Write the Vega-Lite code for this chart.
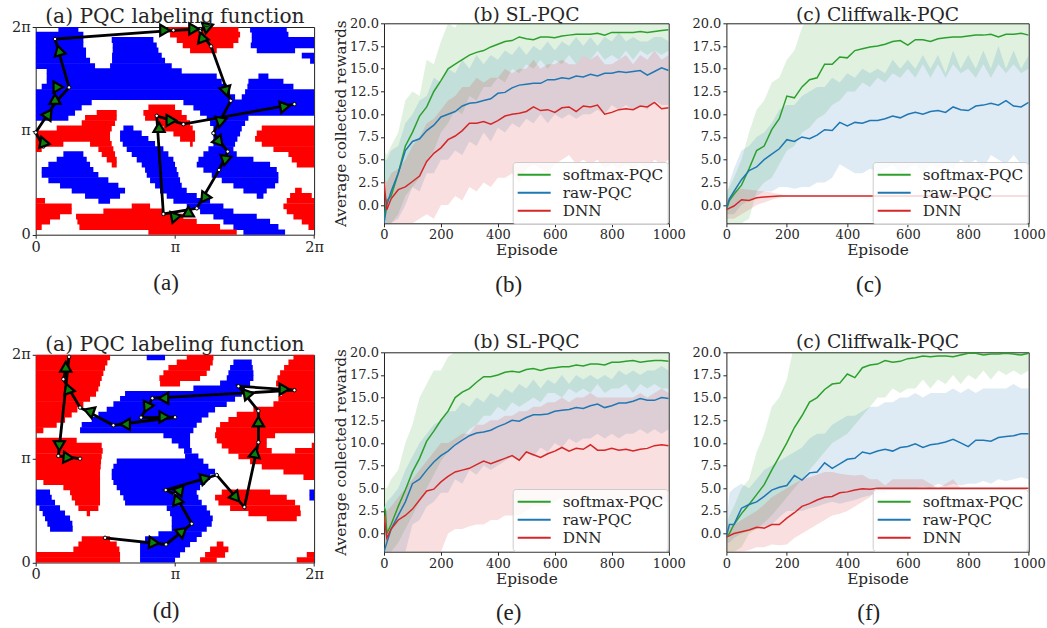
{"$schema":"https://vega.github.io/schema/vega-lite/v6.json","background":"white","padding":{"left":10.7,"top":4.3,"right":0,"bottom":0},
"config":{"view":{"stroke":"#222","strokeWidth":1},"axis":{"grid":false,"domain":false,"labelFont":"DejaVu Serif","titleFont":"DejaVu Serif","labelColor":"#262626","titleColor":"#262626","tickColor":"#262626","labelFontSize":13,"titleFontSize":15.3,"titleFontWeight":"normal","tickSize":3.5,"labelPadding":2,"titlePadding":1,"labelFlush":false,"labelOverlap":false},"title":{"font":"DejaVu Serif","fontSize":18.7,"fontWeight":"normal","color":"#262626","anchor":"middle"},"legend":{"labelFont":"DejaVu Serif","labelFontSize":15.3,"labelColor":"#262626","fillColor":"rgba(255,255,255,0.8)","strokeColor":"#ccc","cornerRadius":3,"padding":4,"symbolType":"stroke","symbolSize":1089,"symbolStrokeWidth":2,"rowPadding":0,"clipHeight":17.5,"labelOffset":11}},
"datasets":{
"mapA":[{"x":68,"x2":128,"y":614,"c":"b"},{"x":643,"x2":753,"y":614,"c":"b"},{"x":0,"x2":143,"y":599,"c":"b"},{"x":648,"x2":758,"y":599,"c":"b"},{"x":0,"x2":143,"y":583,"c":"b"},{"x":228,"x2":353,"y":583,"c":"b"},{"x":648,"x2":835,"y":583,"c":"b"},{"x":0,"x2":143,"y":567,"c":"b"},{"x":231,"x2":363,"y":567,"c":"b"},{"x":645,"x2":835,"y":567,"c":"b"},{"x":0,"x2":151,"y":552,"c":"b"},{"x":231,"x2":368,"y":552,"c":"b"},{"x":663,"x2":778,"y":552,"c":"b"},{"x":0,"x2":151,"y":536,"c":"b"},{"x":229,"x2":378,"y":536,"c":"b"},{"x":798,"x2":835,"y":536,"c":"b"},{"x":0,"x2":163,"y":521,"c":"b"},{"x":229,"x2":388,"y":521,"c":"b"},{"x":823,"x2":835,"y":521,"c":"b"},{"x":0,"x2":178,"y":505,"c":"b"},{"x":223,"x2":408,"y":505,"c":"b"},{"x":33,"x2":438,"y":490,"c":"b"},{"x":33,"x2":543,"y":474,"c":"b"},{"x":668,"x2":698,"y":474,"c":"b"},{"x":33,"x2":558,"y":458,"c":"b"},{"x":638,"x2":743,"y":458,"c":"b"},{"x":18,"x2":573,"y":443,"c":"b"},{"x":635,"x2":773,"y":443,"c":"b"},{"x":0,"x2":583,"y":427,"c":"b"},{"x":628,"x2":835,"y":427,"c":"b"},{"x":0,"x2":598,"y":412,"c":"b"},{"x":618,"x2":835,"y":412,"c":"b"},{"x":0,"x2":168,"y":396,"c":"b"},{"x":443,"x2":835,"y":396,"c":"b"},{"x":0,"x2":138,"y":381,"c":"b"},{"x":473,"x2":835,"y":381,"c":"b"},{"x":0,"x2":118,"y":365,"c":"b"},{"x":493,"x2":835,"y":365,"c":"b"},{"x":0,"x2":98,"y":350,"c":"b"},{"x":513,"x2":638,"y":350,"c":"b"},{"x":523,"x2":628,"y":334,"c":"b"},{"x":533,"x2":618,"y":318,"c":"b"},{"x":263,"x2":293,"y":318,"c":"b"},{"x":533,"x2":613,"y":303,"c":"b"},{"x":253,"x2":318,"y":303,"c":"b"},{"x":533,"x2":605,"y":287,"c":"b"},{"x":253,"x2":338,"y":287,"c":"b"},{"x":533,"x2":598,"y":272,"c":"b"},{"x":261,"x2":358,"y":272,"c":"b"},{"x":518,"x2":593,"y":256,"c":"b"},{"x":273,"x2":383,"y":256,"c":"b"},{"x":503,"x2":603,"y":241,"c":"b"},{"x":288,"x2":398,"y":241,"c":"b"},{"x":83,"x2":143,"y":241,"c":"b"},{"x":488,"x2":653,"y":225,"c":"b"},{"x":303,"x2":413,"y":225,"c":"b"},{"x":63,"x2":153,"y":225,"c":"b"},{"x":483,"x2":703,"y":210,"c":"b"},{"x":318,"x2":418,"y":210,"c":"b"},{"x":38,"x2":163,"y":210,"c":"b"},{"x":503,"x2":723,"y":194,"c":"b"},{"x":328,"x2":423,"y":194,"c":"b"},{"x":18,"x2":173,"y":194,"c":"b"},{"x":528,"x2":728,"y":179,"c":"b"},{"x":333,"x2":428,"y":179,"c":"b"},{"x":18,"x2":188,"y":179,"c":"b"},{"x":558,"x2":728,"y":163,"c":"b"},{"x":343,"x2":433,"y":163,"c":"b"},{"x":38,"x2":218,"y":163,"c":"b"},{"x":593,"x2":718,"y":147,"c":"b"},{"x":358,"x2":438,"y":147,"c":"b"},{"x":73,"x2":248,"y":147,"c":"b"},{"x":623,"x2":693,"y":132,"c":"b"},{"x":373,"x2":453,"y":132,"c":"b"},{"x":108,"x2":268,"y":132,"c":"b"},{"x":663,"x2":683,"y":116,"c":"b"},{"x":393,"x2":483,"y":116,"c":"b"},{"x":148,"x2":253,"y":116,"c":"b"},{"x":413,"x2":523,"y":101,"c":"b"},{"x":188,"x2":223,"y":101,"c":"b"},{"x":453,"x2":563,"y":85,"c":"b"},{"x":493,"x2":593,"y":70,"c":"b"},{"x":533,"x2":663,"y":54,"c":"b"},{"x":563,"x2":703,"y":39,"c":"b"},{"x":593,"x2":728,"y":23,"c":"b"},{"x":623,"x2":748,"y":7,"c":"b"},
{"x":398,"x2":608,"y":614,"c":"r"},{"x":403,"x2":613,"y":599,"c":"r"},{"x":423,"x2":608,"y":583,"c":"r"},{"x":441,"x2":593,"y":567,"c":"r"},{"x":463,"x2":543,"y":552,"c":"r"},{"x":338,"x2":418,"y":381,"c":"r"},{"x":323,"x2":438,"y":365,"c":"r"},{"x":183,"x2":243,"y":365,"c":"r"},{"x":328,"x2":453,"y":350,"c":"r"},{"x":148,"x2":243,"y":350,"c":"r"},{"x":363,"x2":463,"y":334,"c":"r"},{"x":138,"x2":238,"y":334,"c":"r"},{"x":383,"x2":471,"y":318,"c":"r"},{"x":63,"x2":228,"y":318,"c":"r"},{"x":678,"x2":835,"y":318,"c":"r"},{"x":413,"x2":478,"y":303,"c":"r"},{"x":0,"x2":223,"y":303,"c":"r"},{"x":663,"x2":835,"y":303,"c":"r"},{"x":433,"x2":478,"y":287,"c":"r"},{"x":0,"x2":223,"y":287,"c":"r"},{"x":658,"x2":835,"y":287,"c":"r"},{"x":463,"x2":471,"y":272,"c":"r"},{"x":0,"x2":83,"y":272,"c":"r"},{"x":163,"x2":228,"y":272,"c":"r"},{"x":678,"x2":835,"y":272,"c":"r"},{"x":0,"x2":18,"y":256,"c":"r"},{"x":188,"x2":233,"y":256,"c":"r"},{"x":713,"x2":835,"y":256,"c":"r"},{"x":198,"x2":238,"y":241,"c":"r"},{"x":758,"x2":835,"y":241,"c":"r"},{"x":213,"x2":243,"y":225,"c":"r"},{"x":768,"x2":835,"y":225,"c":"r"},{"x":228,"x2":243,"y":210,"c":"r"},{"x":783,"x2":835,"y":210,"c":"r"},{"x":778,"x2":798,"y":132,"c":"r"},{"x":763,"x2":828,"y":116,"c":"r"},{"x":0,"x2":28,"y":101,"c":"r"},{"x":753,"x2":835,"y":101,"c":"r"},{"x":0,"x2":108,"y":85,"c":"r"},{"x":288,"x2":343,"y":85,"c":"r"},{"x":743,"x2":835,"y":85,"c":"r"},{"x":0,"x2":108,"y":70,"c":"r"},{"x":203,"x2":383,"y":70,"c":"r"},{"x":753,"x2":835,"y":70,"c":"r"},{"x":0,"x2":73,"y":54,"c":"r"},{"x":121,"x2":443,"y":54,"c":"r"},{"x":773,"x2":835,"y":54,"c":"r"},{"x":0,"x2":43,"y":39,"c":"r"},{"x":125,"x2":483,"y":39,"c":"r"},{"x":798,"x2":835,"y":39,"c":"r"},{"x":0,"x2":18,"y":23,"c":"r"},{"x":131,"x2":553,"y":23,"c":"r"},{"x":818,"x2":835,"y":23,"c":"r"},{"x":338,"x2":603,"y":7,"c":"r"}],
"mapD":[{"x":333,"x2":388,"y":614,"c":"b"},{"x":593,"x2":648,"y":599,"c":"b"},{"x":583,"x2":651,"y":583,"c":"b"},{"x":578,"x2":653,"y":567,"c":"b"},{"x":573,"x2":653,"y":552,"c":"b"},{"x":553,"x2":643,"y":536,"c":"b"},{"x":473,"x2":628,"y":521,"c":"b"},{"x":268,"x2":618,"y":505,"c":"b"},{"x":253,"x2":598,"y":490,"c":"b"},{"x":233,"x2":573,"y":474,"c":"b"},{"x":213,"x2":538,"y":458,"c":"b"},{"x":188,"x2":518,"y":443,"c":"b"},{"x":168,"x2":498,"y":427,"c":"b"},{"x":138,"x2":483,"y":412,"c":"b"},{"x":133,"x2":473,"y":396,"c":"b"},{"x":383,"x2":463,"y":381,"c":"b"},{"x":408,"x2":463,"y":365,"c":"b"},{"x":428,"x2":463,"y":350,"c":"b"},{"x":445,"x2":468,"y":334,"c":"b"},{"x":448,"x2":488,"y":318,"c":"b"},{"x":243,"x2":503,"y":303,"c":"b"},{"x":233,"x2":518,"y":287,"c":"b"},{"x":228,"x2":538,"y":272,"c":"b"},{"x":228,"x2":523,"y":256,"c":"b"},{"x":233,"x2":508,"y":241,"c":"b"},{"x":243,"x2":493,"y":225,"c":"b"},{"x":253,"x2":483,"y":210,"c":"b"},{"x":0,"x2":43,"y":210,"c":"b"},{"x":821,"x2":835,"y":210,"c":"b"},{"x":263,"x2":488,"y":194,"c":"b"},{"x":0,"x2":48,"y":194,"c":"b"},{"x":821,"x2":835,"y":194,"c":"b"},{"x":268,"x2":498,"y":179,"c":"b"},{"x":0,"x2":58,"y":179,"c":"b"},{"x":393,"x2":513,"y":163,"c":"b"},{"x":11,"x2":73,"y":163,"c":"b"},{"x":403,"x2":523,"y":147,"c":"b"},{"x":21,"x2":88,"y":147,"c":"b"},{"x":408,"x2":531,"y":132,"c":"b"},{"x":28,"x2":103,"y":132,"c":"b"},{"x":408,"x2":528,"y":116,"c":"b"},{"x":35,"x2":110,"y":116,"c":"b"},{"x":408,"x2":513,"y":101,"c":"b"},{"x":43,"x2":111,"y":101,"c":"b"},{"x":368,"x2":498,"y":85,"c":"b"},{"x":328,"x2":483,"y":70,"c":"b"},{"x":313,"x2":463,"y":54,"c":"b"},{"x":313,"x2":448,"y":39,"c":"b"},{"x":313,"x2":433,"y":23,"c":"b"},{"x":313,"x2":418,"y":7,"c":"b"},
{"x":0,"x2":223,"y":614,"c":"r"},{"x":453,"x2":533,"y":614,"c":"r"},{"x":773,"x2":835,"y":614,"c":"r"},{"x":0,"x2":215,"y":599,"c":"r"},{"x":423,"x2":531,"y":599,"c":"r"},{"x":758,"x2":835,"y":599,"c":"r"},{"x":0,"x2":208,"y":583,"c":"r"},{"x":398,"x2":523,"y":583,"c":"r"},{"x":745,"x2":835,"y":583,"c":"r"},{"x":0,"x2":203,"y":567,"c":"r"},{"x":383,"x2":513,"y":567,"c":"r"},{"x":733,"x2":835,"y":567,"c":"r"},{"x":0,"x2":198,"y":552,"c":"r"},{"x":371,"x2":493,"y":552,"c":"r"},{"x":725,"x2":835,"y":552,"c":"r"},{"x":0,"x2":193,"y":536,"c":"r"},{"x":373,"x2":433,"y":536,"c":"r"},{"x":721,"x2":835,"y":536,"c":"r"},{"x":0,"x2":188,"y":521,"c":"r"},{"x":728,"x2":835,"y":521,"c":"r"},{"x":0,"x2":181,"y":505,"c":"r"},{"x":738,"x2":835,"y":505,"c":"r"},{"x":0,"x2":163,"y":490,"c":"r"},{"x":728,"x2":835,"y":490,"c":"r"},{"x":0,"x2":143,"y":474,"c":"r"},{"x":713,"x2":835,"y":474,"c":"r"},{"x":0,"x2":125,"y":458,"c":"r"},{"x":653,"x2":835,"y":458,"c":"r"},{"x":0,"x2":108,"y":443,"c":"r"},{"x":603,"x2":835,"y":443,"c":"r"},{"x":0,"x2":88,"y":427,"c":"r"},{"x":578,"x2":835,"y":427,"c":"r"},{"x":0,"x2":63,"y":412,"c":"r"},{"x":553,"x2":835,"y":412,"c":"r"},{"x":0,"x2":23,"y":396,"c":"r"},{"x":541,"x2":835,"y":396,"c":"r"},{"x":538,"x2":718,"y":381,"c":"r"},{"x":0,"x2":123,"y":365,"c":"r"},{"x":543,"x2":693,"y":365,"c":"r"},{"x":0,"x2":198,"y":350,"c":"r"},{"x":558,"x2":693,"y":350,"c":"r"},{"x":828,"x2":835,"y":350,"c":"r"},{"x":0,"x2":201,"y":334,"c":"r"},{"x":578,"x2":708,"y":334,"c":"r"},{"x":778,"x2":835,"y":334,"c":"r"},{"x":0,"x2":198,"y":318,"c":"r"},{"x":608,"x2":835,"y":318,"c":"r"},{"x":0,"x2":196,"y":303,"c":"r"},{"x":643,"x2":835,"y":303,"c":"r"},{"x":0,"x2":195,"y":287,"c":"r"},{"x":678,"x2":835,"y":287,"c":"r"},{"x":0,"x2":193,"y":272,"c":"r"},{"x":743,"x2":835,"y":272,"c":"r"},{"x":0,"x2":193,"y":256,"c":"r"},{"x":803,"x2":835,"y":256,"c":"r"},{"x":23,"x2":193,"y":241,"c":"r"},{"x":83,"x2":193,"y":225,"c":"r"},{"x":103,"x2":193,"y":210,"c":"r"},{"x":558,"x2":703,"y":210,"c":"r"},{"x":108,"x2":193,"y":194,"c":"r"},{"x":538,"x2":753,"y":194,"c":"r"},{"x":118,"x2":193,"y":179,"c":"r"},{"x":548,"x2":778,"y":179,"c":"r"},{"x":128,"x2":188,"y":163,"c":"r"},{"x":583,"x2":793,"y":163,"c":"r"},{"x":153,"x2":163,"y":147,"c":"r"},{"x":638,"x2":795,"y":147,"c":"r"},{"x":693,"x2":783,"y":132,"c":"r"},{"x":138,"x2":223,"y":70,"c":"r"},{"x":128,"x2":243,"y":54,"c":"r"},{"x":543,"x2":563,"y":54,"c":"r"},{"x":113,"x2":251,"y":39,"c":"r"},{"x":523,"x2":578,"y":39,"c":"r"},{"x":0,"x2":253,"y":23,"c":"r"},{"x":508,"x2":568,"y":23,"c":"r"},{"x":813,"x2":835,"y":23,"c":"r"},{"x":0,"x2":253,"y":7,"c":"r"},{"x":493,"x2":543,"y":7,"c":"r"},{"x":783,"x2":835,"y":7,"c":"r"}],
"pathA":[{"o":0,"x":23,"y":264},{"o":1,"x":0,"y":306},{"o":2,"x":58,"y":394},{"o":3,"x":100,"y":441},{"o":4,"x":58,"y":586},{"o":5,"x":413,"y":612},{"o":6,"x":493,"y":616},{"o":7,"x":518,"y":626},{"o":8,"x":493,"y":609},{"o":9,"x":526,"y":564},{"o":10,"x":585,"y":401},{"o":11,"x":533,"y":304},{"o":12,"x":576,"y":249},{"o":13,"x":550,"y":194},{"o":14,"x":483,"y":79},{"o":15,"x":383,"y":62},{"o":16,"x":363,"y":356},{"o":17,"x":443,"y":331},{"o":18,"x":776,"y":391}],
"triA":[{"x":28,"y":274,"a":100},{"x":39,"y":362,"a":35},{"x":58,"y":406,"a":0},{"x":68,"y":442,"a":90},{"x":70,"y":552,"a":345},{"x":388,"y":612,"a":90},{"x":475,"y":616,"a":90},{"x":518,"y":624,"a":70},{"x":498,"y":592,"a":340},{"x":571,"y":429,"a":165},{"x":553,"y":336,"a":190},{"x":551,"y":277,"a":140},{"x":568,"y":222,"a":190},{"x":505,"y":109,"a":215},{"x":458,"y":69,"a":0},{"x":415,"y":49,"a":200},{"x":370,"y":322,"a":0},{"x":407,"y":342,"a":90},{"x":748,"y":384,"a":80}],
"pathD":[{"o":0,"x":208,"y":74},{"o":1,"x":391,"y":54},{"o":2,"x":468,"y":116},{"o":3,"x":418,"y":204},{"o":4,"x":390,"y":217},{"o":5,"x":543,"y":262},{"o":6,"x":626,"y":166},{"o":7,"x":668,"y":360},{"o":8,"x":668,"y":454},{"o":9,"x":608,"y":528},{"o":10,"x":776,"y":516},{"o":11,"x":350,"y":492},{"o":12,"x":316,"y":434},{"o":13,"x":418,"y":435},{"o":14,"x":233,"y":411},{"o":15,"x":133,"y":464},{"o":16,"x":83,"y":549},{"o":17,"x":100,"y":616},{"o":18,"x":68,"y":319},{"o":19,"x":133,"y":311}],
"triD":[{"x":355,"y":59,"a":95},{"x":440,"y":94,"a":50},{"x":423,"y":189,"a":340},{"x":426,"y":216,"a":280},{"x":510,"y":252,"a":75},{"x":601,"y":194,"a":140},{"x":658,"y":329,"a":10},{"x":668,"y":422,"a":0},{"x":633,"y":499,"a":200},{"x":746,"y":519,"a":90},{"x":383,"y":492,"a":270},{"x":333,"y":464,"a":205},{"x":386,"y":436,"a":90},{"x":268,"y":414,"a":270},{"x":165,"y":447,"a":170},{"x":103,"y":516,"a":100},{"x":90,"y":586,"a":0},{"x":71,"y":349,"a":180},{"x":98,"y":314,"a":95}],
"curvesB":[{"e":0,"s":"softmax-PQC","m":-1.5,"l":-2,"h":6},{"e":10,"s":"softmax-PQC","m":0.5,"l":-2,"h":5.5},{"e":25,"s":"softmax-PQC","m":1,"l":-2,"h":6.5},{"e":50,"s":"softmax-PQC","m":3.5,"l":-1,"h":8},{"e":75,"s":"softmax-PQC","m":6.5,"l":1,"h":11.5},{"e":100,"s":"softmax-PQC","m":8,"l":2,"h":12.5},{"e":125,"s":"softmax-PQC","m":9.8,"l":3,"h":12},{"e":150,"s":"softmax-PQC","m":10.8,"l":5,"h":16},{"e":175,"s":"softmax-PQC","m":12.5,"l":6,"h":15.5},{"e":200,"s":"softmax-PQC","m":13.7,"l":8,"h":18},{"e":225,"s":"softmax-PQC","m":15,"l":9,"h":20},{"e":250,"s":"softmax-PQC","m":15.5,"l":10.5,"h":19.5},{"e":275,"s":"softmax-PQC","m":16,"l":10,"h":21},{"e":300,"s":"softmax-PQC","m":16.5,"l":12,"h":20.5},{"e":325,"s":"softmax-PQC","m":16.8,"l":11.5,"h":21},{"e":350,"s":"softmax-PQC","m":17,"l":13,"h":21},{"e":375,"s":"softmax-PQC","m":17.4,"l":13,"h":21},{"e":400,"s":"softmax-PQC","m":17.7,"l":14,"h":21},{"e":425,"s":"softmax-PQC","m":18,"l":13.5,"h":21},{"e":450,"s":"softmax-PQC","m":18.1,"l":15,"h":21},{"e":475,"s":"softmax-PQC","m":18.5,"l":14.5,"h":21},{"e":500,"s":"softmax-PQC","m":18.3,"l":15.5,"h":21},{"e":525,"s":"softmax-PQC","m":18.2,"l":15,"h":21},{"e":550,"s":"softmax-PQC","m":18.5,"l":16,"h":21},{"e":575,"s":"softmax-PQC","m":18.5,"l":15,"h":21},{"e":600,"s":"softmax-PQC","m":18.4,"l":16,"h":21},{"e":625,"s":"softmax-PQC","m":18.6,"l":15.5,"h":21},{"e":650,"s":"softmax-PQC","m":18.7,"l":16.5,"h":21},{"e":675,"s":"softmax-PQC","m":18.8,"l":15.5,"h":21},{"e":700,"s":"softmax-PQC","m":18.8,"l":16.5,"h":21},{"e":725,"s":"softmax-PQC","m":18.8,"l":16,"h":21},{"e":750,"s":"softmax-PQC","m":18.9,"l":17,"h":21},{"e":775,"s":"softmax-PQC","m":18.7,"l":16,"h":21},{"e":800,"s":"softmax-PQC","m":19,"l":16.5,"h":21},{"e":825,"s":"softmax-PQC","m":19,"l":16,"h":21},{"e":850,"s":"softmax-PQC","m":19,"l":17,"h":21},{"e":875,"s":"softmax-PQC","m":19,"l":16,"h":21},{"e":900,"s":"softmax-PQC","m":19.1,"l":17,"h":21},{"e":925,"s":"softmax-PQC","m":19,"l":16.5,"h":21},{"e":950,"s":"softmax-PQC","m":19.1,"l":17,"h":21},{"e":975,"s":"softmax-PQC","m":19.2,"l":16.5,"h":21},{"e":1000,"s":"softmax-PQC","m":19.3,"l":17,"h":21},
{"e":0,"s":"raw-PQC","m":-2,"l":-2,"h":5},{"e":10,"s":"raw-PQC","m":0,"l":-2,"h":5},{"e":25,"s":"raw-PQC","m":1.5,"l":-2,"h":6},{"e":50,"s":"raw-PQC","m":3.5,"l":-1.5,"h":6.5},{"e":75,"s":"raw-PQC","m":6,"l":0,"h":9},{"e":100,"s":"raw-PQC","m":7,"l":2,"h":10},{"e":125,"s":"raw-PQC","m":7.3,"l":1.5,"h":11.5},{"e":150,"s":"raw-PQC","m":8.2,"l":3.5,"h":12},{"e":175,"s":"raw-PQC","m":8.8,"l":3.5,"h":14},{"e":200,"s":"raw-PQC","m":9.7,"l":5,"h":13.5},{"e":225,"s":"raw-PQC","m":10,"l":5,"h":15},{"e":250,"s":"raw-PQC","m":10.3,"l":6,"h":14.5},{"e":275,"s":"raw-PQC","m":10.9,"l":5.5,"h":16},{"e":300,"s":"raw-PQC","m":11.2,"l":7,"h":15},{"e":325,"s":"raw-PQC","m":11.3,"l":6.5,"h":16.5},{"e":350,"s":"raw-PQC","m":11.5,"l":8,"h":15.5},{"e":375,"s":"raw-PQC","m":11.7,"l":7,"h":16.5},{"e":400,"s":"raw-PQC","m":12.3,"l":8.5,"h":16},{"e":425,"s":"raw-PQC","m":12.4,"l":8,"h":17},{"e":450,"s":"raw-PQC","m":12.9,"l":9,"h":16.5},{"e":475,"s":"raw-PQC","m":13.2,"l":8.5,"h":17.5},{"e":500,"s":"raw-PQC","m":13.3,"l":9.5,"h":16.5},{"e":525,"s":"raw-PQC","m":13.4,"l":9,"h":17.5},{"e":550,"s":"raw-PQC","m":13.4,"l":10,"h":17},{"e":575,"s":"raw-PQC","m":13.8,"l":9,"h":18},{"e":600,"s":"raw-PQC","m":13.8,"l":10,"h":17},{"e":625,"s":"raw-PQC","m":14,"l":9.5,"h":18},{"e":650,"s":"raw-PQC","m":13.9,"l":10,"h":17.5},{"e":675,"s":"raw-PQC","m":14.2,"l":9.5,"h":18.5},{"e":700,"s":"raw-PQC","m":14.1,"l":10,"h":17.5},{"e":725,"s":"raw-PQC","m":14.4,"l":10,"h":18.5},{"e":750,"s":"raw-PQC","m":14.2,"l":10.5,"h":17.5},{"e":775,"s":"raw-PQC","m":14.5,"l":10,"h":18.5},{"e":800,"s":"raw-PQC","m":14.5,"l":11,"h":18},{"e":825,"s":"raw-PQC","m":14.7,"l":10.5,"h":19},{"e":850,"s":"raw-PQC","m":14.6,"l":11,"h":18},{"e":875,"s":"raw-PQC","m":14.7,"l":10.5,"h":18.5},{"e":900,"s":"raw-PQC","m":14.8,"l":11,"h":18},{"e":925,"s":"raw-PQC","m":14.3,"l":10.5,"h":18},{"e":950,"s":"raw-PQC","m":14.7,"l":11.5,"h":18.5},{"e":975,"s":"raw-PQC","m":15.1,"l":11,"h":18.5},{"e":1000,"s":"raw-PQC","m":14.8,"l":11,"h":18},
{"e":0,"s":"DNN","m":2.5,"l":-2,"h":3},{"e":10,"s":"DNN","m":-0.5,"l":-2,"h":2.5},{"e":25,"s":"DNN","m":0.7,"l":-2,"h":3.5},{"e":50,"s":"DNN","m":1.7,"l":-2,"h":4},{"e":75,"s":"DNN","m":2,"l":-2,"h":5},{"e":100,"s":"DNN","m":2.6,"l":-2,"h":6.5},{"e":125,"s":"DNN","m":3.2,"l":-1.5,"h":7.5},{"e":150,"s":"DNN","m":4.8,"l":-1,"h":9},{"e":175,"s":"DNN","m":5.7,"l":-1.5,"h":9.5},{"e":200,"s":"DNN","m":6.3,"l":0,"h":10.5},{"e":225,"s":"DNN","m":7.2,"l":0,"h":11.5},{"e":250,"s":"DNN","m":7.6,"l":1,"h":12},{"e":275,"s":"DNN","m":8.2,"l":0.5,"h":13},{"e":300,"s":"DNN","m":9,"l":2,"h":13},{"e":325,"s":"DNN","m":9,"l":1.5,"h":14},{"e":350,"s":"DNN","m":9.2,"l":2.5,"h":13.5},{"e":375,"s":"DNN","m":8.9,"l":2,"h":14},{"e":400,"s":"DNN","m":9.3,"l":3,"h":14},{"e":425,"s":"DNN","m":9.8,"l":3,"h":15},{"e":450,"s":"DNN","m":10,"l":3.5,"h":14.5},{"e":475,"s":"DNN","m":10.1,"l":2.5,"h":15},{"e":500,"s":"DNN","m":10.3,"l":4,"h":15},{"e":525,"s":"DNN","m":10.8,"l":4.5,"h":16},{"e":550,"s":"DNN","m":10.4,"l":4,"h":15},{"e":575,"s":"DNN","m":10.5,"l":3.5,"h":15.5},{"e":600,"s":"DNN","m":10.2,"l":4.5,"h":15.5},{"e":625,"s":"DNN","m":10.7,"l":5,"h":16},{"e":650,"s":"DNN","m":10.8,"l":5.5,"h":15.5},{"e":675,"s":"DNN","m":10.3,"l":4.5,"h":15.5},{"e":700,"s":"DNN","m":10.9,"l":5,"h":16.5},{"e":725,"s":"DNN","m":10.8,"l":4.5,"h":16},{"e":750,"s":"DNN","m":11,"l":5,"h":16.5},{"e":775,"s":"DNN","m":10,"l":4,"h":15.5},{"e":800,"s":"DNN","m":10.2,"l":4.5,"h":15.5},{"e":825,"s":"DNN","m":10.5,"l":4,"h":16},{"e":850,"s":"DNN","m":10.6,"l":4.5,"h":16.5},{"e":875,"s":"DNN","m":10.5,"l":4,"h":15.5},{"e":900,"s":"DNN","m":10.9,"l":4.5,"h":16.5},{"e":925,"s":"DNN","m":10.8,"l":4,"h":16},{"e":950,"s":"DNN","m":11.3,"l":5,"h":17},{"e":975,"s":"DNN","m":10.6,"l":4.5,"h":16},{"e":1000,"s":"DNN","m":10.7,"l":5,"h":16.5}],
"curvesC":[{"e":0,"s":"softmax-PQC","m":-0.5,"l":-2,"h":1.5},{"e":10,"s":"softmax-PQC","m":0.5,"l":-2,"h":2},{"e":25,"s":"softmax-PQC","m":1.2,"l":-2,"h":3},{"e":50,"s":"softmax-PQC","m":2.2,"l":-2,"h":5},{"e":75,"s":"softmax-PQC","m":4,"l":-1.5,"h":8},{"e":100,"s":"softmax-PQC","m":6,"l":1.5,"h":10.5},{"e":125,"s":"softmax-PQC","m":6.5,"l":2.5,"h":11.5},{"e":150,"s":"softmax-PQC","m":8.3,"l":3,"h":13.5},{"e":175,"s":"softmax-PQC","m":9.5,"l":4.5,"h":14},{"e":200,"s":"softmax-PQC","m":12,"l":6,"h":16},{"e":225,"s":"softmax-PQC","m":11.8,"l":6.5,"h":17},{"e":250,"s":"softmax-PQC","m":13,"l":8,"h":19.5},{"e":275,"s":"softmax-PQC","m":13.8,"l":8.5,"h":21},{"e":300,"s":"softmax-PQC","m":14,"l":9.5,"h":21},{"e":325,"s":"softmax-PQC","m":15.5,"l":10,"h":21},{"e":350,"s":"softmax-PQC","m":15.5,"l":11,"h":21},{"e":375,"s":"softmax-PQC","m":16.3,"l":11.5,"h":21},{"e":400,"s":"softmax-PQC","m":16.2,"l":12.5,"h":21},{"e":425,"s":"softmax-PQC","m":17,"l":12.5,"h":21},{"e":450,"s":"softmax-PQC","m":17.2,"l":13.5,"h":21},{"e":475,"s":"softmax-PQC","m":17.4,"l":13,"h":21},{"e":500,"s":"softmax-PQC","m":17.5,"l":14,"h":21},{"e":525,"s":"softmax-PQC","m":17.7,"l":13.5,"h":21},{"e":550,"s":"softmax-PQC","m":18,"l":14.5,"h":21},{"e":575,"s":"softmax-PQC","m":18.1,"l":14,"h":21},{"e":600,"s":"softmax-PQC","m":17.6,"l":15,"h":21},{"e":625,"s":"softmax-PQC","m":18.2,"l":14,"h":21},{"e":650,"s":"softmax-PQC","m":18.2,"l":15.5,"h":21},{"e":675,"s":"softmax-PQC","m":18,"l":14,"h":21},{"e":700,"s":"softmax-PQC","m":18.3,"l":15.5,"h":21},{"e":725,"s":"softmax-PQC","m":18.4,"l":14,"h":21},{"e":750,"s":"softmax-PQC","m":18.5,"l":15.5,"h":21},{"e":775,"s":"softmax-PQC","m":18.5,"l":14.5,"h":21},{"e":800,"s":"softmax-PQC","m":18.6,"l":15,"h":21},{"e":825,"s":"softmax-PQC","m":18.7,"l":14,"h":21},{"e":850,"s":"softmax-PQC","m":18.7,"l":15.5,"h":21},{"e":875,"s":"softmax-PQC","m":18.8,"l":14,"h":21},{"e":900,"s":"softmax-PQC","m":18.5,"l":15.5,"h":21},{"e":925,"s":"softmax-PQC","m":18.8,"l":14.5,"h":21},{"e":950,"s":"softmax-PQC","m":18.8,"l":15.5,"h":21},{"e":975,"s":"softmax-PQC","m":18.9,"l":14.5,"h":21},{"e":1000,"s":"softmax-PQC","m":18.7,"l":15,"h":21},
{"e":0,"s":"raw-PQC","m":-0.3,"l":-1,"h":1},{"e":10,"s":"raw-PQC","m":0.7,"l":-1,"h":2.5},{"e":25,"s":"raw-PQC","m":1.5,"l":-1,"h":4},{"e":50,"s":"raw-PQC","m":2.8,"l":0,"h":6},{"e":75,"s":"raw-PQC","m":3.8,"l":0.5,"h":6.5},{"e":100,"s":"raw-PQC","m":4.2,"l":1,"h":7.5},{"e":125,"s":"raw-PQC","m":5,"l":1.5,"h":8},{"e":150,"s":"raw-PQC","m":5.6,"l":1.5,"h":9},{"e":175,"s":"raw-PQC","m":6.2,"l":2,"h":10.5},{"e":200,"s":"raw-PQC","m":7.2,"l":2,"h":11},{"e":225,"s":"raw-PQC","m":7,"l":1.8,"h":11},{"e":250,"s":"raw-PQC","m":7.5,"l":2,"h":12},{"e":275,"s":"raw-PQC","m":7.3,"l":2,"h":12.5},{"e":300,"s":"raw-PQC","m":7.7,"l":2.5,"h":13},{"e":325,"s":"raw-PQC","m":8.3,"l":2.5,"h":13},{"e":350,"s":"raw-PQC","m":8.2,"l":3,"h":14},{"e":375,"s":"raw-PQC","m":9.1,"l":4.5,"h":13.5},{"e":400,"s":"raw-PQC","m":8.7,"l":4,"h":14.5},{"e":425,"s":"raw-PQC","m":9.1,"l":3.5,"h":14},{"e":450,"s":"raw-PQC","m":9,"l":3.5,"h":15},{"e":475,"s":"raw-PQC","m":9.3,"l":4,"h":14.5},{"e":500,"s":"raw-PQC","m":9.3,"l":3.7,"h":15},{"e":525,"s":"raw-PQC","m":9.5,"l":4,"h":14.5},{"e":550,"s":"raw-PQC","m":9.8,"l":4.5,"h":16},{"e":575,"s":"raw-PQC","m":9.6,"l":3.5,"h":15},{"e":600,"s":"raw-PQC","m":10,"l":4,"h":16},{"e":625,"s":"raw-PQC","m":10.2,"l":4.5,"h":15},{"e":650,"s":"raw-PQC","m":10,"l":3.5,"h":16.5},{"e":675,"s":"raw-PQC","m":10.3,"l":4.5,"h":15},{"e":700,"s":"raw-PQC","m":10.4,"l":4,"h":16.5},{"e":725,"s":"raw-PQC","m":10.2,"l":4.5,"h":14.5},{"e":750,"s":"raw-PQC","m":10.8,"l":4,"h":17},{"e":775,"s":"raw-PQC","m":10.5,"l":5,"h":15},{"e":800,"s":"raw-PQC","m":10.4,"l":4.5,"h":16.5},{"e":825,"s":"raw-PQC","m":10.9,"l":5,"h":15},{"e":850,"s":"raw-PQC","m":11,"l":4,"h":17},{"e":875,"s":"raw-PQC","m":11.2,"l":5.5,"h":15},{"e":900,"s":"raw-PQC","m":11,"l":5,"h":17.5},{"e":925,"s":"raw-PQC","m":11.5,"l":4.5,"h":15},{"e":950,"s":"raw-PQC","m":10.9,"l":5.5,"h":17},{"e":975,"s":"raw-PQC","m":10.8,"l":4.5,"h":15},{"e":1000,"s":"raw-PQC","m":11.3,"l":4.5,"h":16.5},
{"e":0,"s":"DNN","m":-0.5,"l":-1.5,"h":0.5},{"e":25,"s":"DNN","m":-0.1,"l":-1.5,"h":1.5},{"e":50,"s":"DNN","m":0.6,"l":-1,"h":1.8},{"e":75,"s":"DNN","m":0.5,"l":-0.5,"h":1.7},{"e":100,"s":"DNN","m":0.8,"l":0,"h":1.6},{"e":125,"s":"DNN","m":0.9,"l":0.3,"h":1.5},{"e":150,"s":"DNN","m":0.95,"l":0.6,"h":1.4},{"e":175,"s":"DNN","m":1,"l":0.8,"h":1.2},{"e":200,"s":"DNN","m":1,"l":0.95,"h":1.05},{"e":1000,"s":"DNN","m":1,"l":1,"h":1}],
"curvesE":[{"e":0,"s":"softmax-PQC","m":3,"l":-2,"h":5},{"e":5,"s":"softmax-PQC","m":2.5,"l":-2,"h":5},{"e":10,"s":"softmax-PQC","m":0,"l":-2,"h":5},{"e":25,"s":"softmax-PQC","m":1,"l":-2,"h":6},{"e":50,"s":"softmax-PQC","m":3,"l":-1,"h":7},{"e":75,"s":"softmax-PQC","m":4.8,"l":0.5,"h":10},{"e":100,"s":"softmax-PQC","m":6.8,"l":2,"h":12},{"e":125,"s":"softmax-PQC","m":8.3,"l":3.5,"h":15},{"e":150,"s":"softmax-PQC","m":10.2,"l":5,"h":16.5},{"e":175,"s":"softmax-PQC","m":11.3,"l":6.5,"h":18},{"e":200,"s":"softmax-PQC","m":12.5,"l":8,"h":18},{"e":225,"s":"softmax-PQC","m":13.5,"l":9,"h":19.5},{"e":250,"s":"softmax-PQC","m":15,"l":10,"h":20},{"e":275,"s":"softmax-PQC","m":15.6,"l":10.5,"h":21},{"e":300,"s":"softmax-PQC","m":16,"l":11.5,"h":21},{"e":325,"s":"softmax-PQC","m":16.7,"l":12,"h":21},{"e":350,"s":"softmax-PQC","m":17.3,"l":13,"h":21},{"e":375,"s":"softmax-PQC","m":17.3,"l":13,"h":21},{"e":400,"s":"softmax-PQC","m":17.5,"l":14,"h":21},{"e":425,"s":"softmax-PQC","m":17.8,"l":13.5,"h":21},{"e":450,"s":"softmax-PQC","m":17.9,"l":14.5,"h":21},{"e":475,"s":"softmax-PQC","m":17.8,"l":14,"h":21},{"e":500,"s":"softmax-PQC","m":18.1,"l":14.5,"h":21},{"e":525,"s":"softmax-PQC","m":18.2,"l":15,"h":21},{"e":550,"s":"softmax-PQC","m":18,"l":14.5,"h":21},{"e":575,"s":"softmax-PQC","m":18.2,"l":15.5,"h":21},{"e":600,"s":"softmax-PQC","m":18.3,"l":15.5,"h":21},{"e":625,"s":"softmax-PQC","m":18.4,"l":15,"h":21},{"e":650,"s":"softmax-PQC","m":18.4,"l":16,"h":21},{"e":675,"s":"softmax-PQC","m":18.6,"l":15.5,"h":21},{"e":700,"s":"softmax-PQC","m":18.5,"l":16,"h":21},{"e":725,"s":"softmax-PQC","m":18.7,"l":15.5,"h":21},{"e":750,"s":"softmax-PQC","m":18.7,"l":16.5,"h":21},{"e":775,"s":"softmax-PQC","m":18.6,"l":15.5,"h":21},{"e":800,"s":"softmax-PQC","m":18.9,"l":16,"h":21},{"e":825,"s":"softmax-PQC","m":18.9,"l":16,"h":21},{"e":850,"s":"softmax-PQC","m":19,"l":16.5,"h":21},{"e":875,"s":"softmax-PQC","m":19.1,"l":15.5,"h":21},{"e":900,"s":"softmax-PQC","m":18.9,"l":16.5,"h":21},{"e":925,"s":"softmax-PQC","m":19,"l":16,"h":21},{"e":950,"s":"softmax-PQC","m":19.1,"l":16.5,"h":21},{"e":975,"s":"softmax-PQC","m":19.1,"l":16,"h":21},{"e":1000,"s":"softmax-PQC","m":19,"l":16,"h":21},
{"e":0,"s":"raw-PQC","m":-2,"l":-2,"h":3},{"e":10,"s":"raw-PQC","m":-1,"l":-2,"h":3.5},{"e":25,"s":"raw-PQC","m":0.5,"l":-2,"h":4},{"e":50,"s":"raw-PQC","m":2,"l":-2,"h":5},{"e":75,"s":"raw-PQC","m":3.5,"l":-2,"h":7},{"e":100,"s":"raw-PQC","m":5.5,"l":1,"h":8.5},{"e":125,"s":"raw-PQC","m":6,"l":1.5,"h":10},{"e":150,"s":"raw-PQC","m":7,"l":3,"h":11},{"e":175,"s":"raw-PQC","m":7.9,"l":3.5,"h":12},{"e":200,"s":"raw-PQC","m":8.6,"l":4.5,"h":12.5},{"e":225,"s":"raw-PQC","m":9.1,"l":4.5,"h":13.5},{"e":250,"s":"raw-PQC","m":9.8,"l":6,"h":13.5},{"e":275,"s":"raw-PQC","m":10.3,"l":5.5,"h":14.5},{"e":300,"s":"raw-PQC","m":10.8,"l":7,"h":14},{"e":325,"s":"raw-PQC","m":11.1,"l":6.5,"h":15},{"e":350,"s":"raw-PQC","m":11.2,"l":7.5,"h":14.5},{"e":375,"s":"raw-PQC","m":11.4,"l":7,"h":15.5},{"e":400,"s":"raw-PQC","m":11.8,"l":7.5,"h":15},{"e":425,"s":"raw-PQC","m":12.1,"l":8,"h":16},{"e":450,"s":"raw-PQC","m":12.5,"l":8.5,"h":15.5},{"e":475,"s":"raw-PQC","m":12.4,"l":8,"h":16.5},{"e":500,"s":"raw-PQC","m":12.8,"l":9,"h":16},{"e":525,"s":"raw-PQC","m":13.1,"l":8.5,"h":17},{"e":550,"s":"raw-PQC","m":13.1,"l":9.5,"h":16},{"e":575,"s":"raw-PQC","m":13.2,"l":9,"h":17},{"e":600,"s":"raw-PQC","m":13.5,"l":10,"h":16.5},{"e":625,"s":"raw-PQC","m":13.6,"l":9.5,"h":17.5},{"e":650,"s":"raw-PQC","m":13.7,"l":10.5,"h":16.5},{"e":675,"s":"raw-PQC","m":13.9,"l":10,"h":17.5},{"e":700,"s":"raw-PQC","m":13.8,"l":10.5,"h":17},{"e":725,"s":"raw-PQC","m":14.1,"l":10.5,"h":17.5},{"e":750,"s":"raw-PQC","m":14.3,"l":11,"h":17},{"e":775,"s":"raw-PQC","m":13.9,"l":10.5,"h":17.5},{"e":800,"s":"raw-PQC","m":14.1,"l":11,"h":17},{"e":825,"s":"raw-PQC","m":14.4,"l":10.5,"h":18},{"e":850,"s":"raw-PQC","m":14.4,"l":11,"h":17.5},{"e":875,"s":"raw-PQC","m":14.6,"l":11,"h":18},{"e":900,"s":"raw-PQC","m":14.9,"l":11.5,"h":17.5},{"e":925,"s":"raw-PQC","m":14.7,"l":11,"h":18},{"e":950,"s":"raw-PQC","m":14.7,"l":11.5,"h":18},{"e":975,"s":"raw-PQC","m":15,"l":11,"h":18.5},{"e":1000,"s":"raw-PQC","m":14.9,"l":11.5,"h":18},
{"e":0,"s":"DNN","m":2,"l":-2,"h":3},{"e":10,"s":"DNN","m":-0.5,"l":-2,"h":2.5},{"e":25,"s":"DNN","m":0.5,"l":-2,"h":3},{"e":50,"s":"DNN","m":1.5,"l":-2,"h":4},{"e":75,"s":"DNN","m":2,"l":-2,"h":5},{"e":100,"s":"DNN","m":2.7,"l":-2,"h":6},{"e":125,"s":"DNN","m":3.7,"l":-2,"h":7},{"e":150,"s":"DNN","m":4.7,"l":-2,"h":8},{"e":175,"s":"DNN","m":4.9,"l":-2,"h":9},{"e":200,"s":"DNN","m":5.7,"l":-2,"h":10},{"e":225,"s":"DNN","m":6.3,"l":0,"h":10},{"e":250,"s":"DNN","m":6.8,"l":0.5,"h":10.5},{"e":275,"s":"DNN","m":7,"l":0.5,"h":11},{"e":300,"s":"DNN","m":7.2,"l":0.8,"h":11},{"e":325,"s":"DNN","m":7.6,"l":1,"h":12},{"e":350,"s":"DNN","m":8,"l":1,"h":12},{"e":375,"s":"DNN","m":7.7,"l":1.5,"h":12.5},{"e":400,"s":"DNN","m":8,"l":1.5,"h":12.5},{"e":425,"s":"DNN","m":8.3,"l":2,"h":13},{"e":450,"s":"DNN","m":8.6,"l":2,"h":13},{"e":475,"s":"DNN","m":8.1,"l":2,"h":13.5},{"e":500,"s":"DNN","m":9,"l":2.5,"h":13.5},{"e":525,"s":"DNN","m":8.7,"l":3,"h":14},{"e":550,"s":"DNN","m":8.4,"l":3,"h":14},{"e":575,"s":"DNN","m":8.8,"l":3,"h":14.5},{"e":600,"s":"DNN","m":9.1,"l":3.5,"h":14.5},{"e":625,"s":"DNN","m":9.5,"l":4,"h":15},{"e":650,"s":"DNN","m":9.1,"l":3.5,"h":14.5},{"e":675,"s":"DNN","m":9.4,"l":4,"h":15},{"e":700,"s":"DNN","m":9.3,"l":4,"h":15},{"e":725,"s":"DNN","m":9.8,"l":4,"h":15.5},{"e":750,"s":"DNN","m":9.2,"l":4,"h":15},{"e":775,"s":"DNN","m":9.2,"l":3.5,"h":15},{"e":800,"s":"DNN","m":9.4,"l":4,"h":15},{"e":825,"s":"DNN","m":9.2,"l":3.5,"h":15},{"e":850,"s":"DNN","m":9.3,"l":4,"h":15},{"e":875,"s":"DNN","m":9.1,"l":3.5,"h":15},{"e":900,"s":"DNN","m":9.3,"l":4,"h":15.5},{"e":925,"s":"DNN","m":9.4,"l":3.5,"h":15},{"e":950,"s":"DNN","m":9.7,"l":4,"h":15.5},{"e":975,"s":"DNN","m":9.8,"l":3.5,"h":16},{"e":1000,"s":"DNN","m":9.7,"l":3.5,"h":15.5}],
"curvesF":[{"e":0,"s":"softmax-PQC","m":-0.3,"l":-2,"h":1},{"e":10,"s":"softmax-PQC","m":0,"l":-2,"h":2},{"e":25,"s":"softmax-PQC","m":1,"l":-2,"h":3},{"e":50,"s":"softmax-PQC","m":2.2,"l":-1.5,"h":5},{"e":75,"s":"softmax-PQC","m":3.2,"l":0,"h":6},{"e":100,"s":"softmax-PQC","m":4.3,"l":0.5,"h":9},{"e":125,"s":"softmax-PQC","m":5.4,"l":1.2,"h":11},{"e":150,"s":"softmax-PQC","m":7,"l":2,"h":14},{"e":175,"s":"softmax-PQC","m":8.5,"l":3,"h":15},{"e":200,"s":"softmax-PQC","m":10,"l":4,"h":17},{"e":225,"s":"softmax-PQC","m":11.7,"l":5,"h":21},{"e":250,"s":"softmax-PQC","m":13,"l":6,"h":21},{"e":275,"s":"softmax-PQC","m":14.5,"l":7,"h":21},{"e":300,"s":"softmax-PQC","m":15,"l":8,"h":21},{"e":325,"s":"softmax-PQC","m":15.9,"l":9,"h":21},{"e":350,"s":"softmax-PQC","m":16.5,"l":10,"h":21},{"e":375,"s":"softmax-PQC","m":16.6,"l":10.5,"h":21},{"e":400,"s":"softmax-PQC","m":17.6,"l":11,"h":21},{"e":425,"s":"softmax-PQC","m":17.2,"l":12,"h":21},{"e":450,"s":"softmax-PQC","m":18.3,"l":13,"h":21},{"e":475,"s":"softmax-PQC","m":18.6,"l":14,"h":21},{"e":500,"s":"softmax-PQC","m":18.7,"l":15,"h":21},{"e":525,"s":"softmax-PQC","m":19.1,"l":15,"h":21},{"e":550,"s":"softmax-PQC","m":18.9,"l":16,"h":21},{"e":575,"s":"softmax-PQC","m":19,"l":15.5,"h":21},{"e":600,"s":"softmax-PQC","m":19.3,"l":16,"h":21},{"e":625,"s":"softmax-PQC","m":19.4,"l":16,"h":21},{"e":650,"s":"softmax-PQC","m":19.6,"l":17,"h":21},{"e":675,"s":"softmax-PQC","m":19.5,"l":16,"h":21},{"e":700,"s":"softmax-PQC","m":19.6,"l":17,"h":21},{"e":725,"s":"softmax-PQC","m":19.6,"l":16.5,"h":21},{"e":750,"s":"softmax-PQC","m":19.5,"l":17.5,"h":21},{"e":775,"s":"softmax-PQC","m":19.7,"l":16.5,"h":21},{"e":800,"s":"softmax-PQC","m":19.9,"l":17.5,"h":21},{"e":825,"s":"softmax-PQC","m":19.9,"l":17,"h":21},{"e":850,"s":"softmax-PQC","m":19.7,"l":18,"h":21},{"e":875,"s":"softmax-PQC","m":19.8,"l":17,"h":21},{"e":900,"s":"softmax-PQC","m":19.8,"l":18,"h":21},{"e":925,"s":"softmax-PQC","m":19.9,"l":17.5,"h":21},{"e":950,"s":"softmax-PQC","m":19.8,"l":18,"h":21},{"e":975,"s":"softmax-PQC","m":19.7,"l":17.5,"h":21},{"e":1000,"s":"softmax-PQC","m":19.9,"l":18,"h":21},
{"e":0,"s":"raw-PQC","m":-0.3,"l":-1,"h":1},{"e":10,"s":"raw-PQC","m":1,"l":-1,"h":4.5},{"e":25,"s":"raw-PQC","m":1,"l":-0.5,"h":5},{"e":50,"s":"raw-PQC","m":2.8,"l":0,"h":5.5},{"e":75,"s":"raw-PQC","m":3.2,"l":0.3,"h":5},{"e":100,"s":"raw-PQC","m":3.5,"l":0.5,"h":6},{"e":125,"s":"raw-PQC","m":4.1,"l":0.8,"h":7},{"e":150,"s":"raw-PQC","m":4.8,"l":1,"h":7.5},{"e":175,"s":"raw-PQC","m":5.1,"l":1.8,"h":8},{"e":200,"s":"raw-PQC","m":5.3,"l":2.5,"h":8.5},{"e":225,"s":"raw-PQC","m":6.4,"l":2.5,"h":9},{"e":250,"s":"raw-PQC","m":5.9,"l":2.5,"h":9.5},{"e":275,"s":"raw-PQC","m":6.7,"l":2.8,"h":10.5},{"e":300,"s":"raw-PQC","m":6.8,"l":3,"h":11},{"e":325,"s":"raw-PQC","m":7.8,"l":3.3,"h":11},{"e":350,"s":"raw-PQC","m":7.2,"l":3.5,"h":12},{"e":375,"s":"raw-PQC","m":7.7,"l":3.3,"h":12.5},{"e":400,"s":"raw-PQC","m":8.2,"l":3.5,"h":13},{"e":425,"s":"raw-PQC","m":8.3,"l":3.7,"h":13},{"e":450,"s":"raw-PQC","m":9,"l":4,"h":13.5},{"e":475,"s":"raw-PQC","m":8.8,"l":4.2,"h":14},{"e":500,"s":"raw-PQC","m":9.1,"l":4.5,"h":14},{"e":525,"s":"raw-PQC","m":9.3,"l":4.5,"h":14.5},{"e":550,"s":"raw-PQC","m":9.1,"l":5,"h":14.5},{"e":575,"s":"raw-PQC","m":9.5,"l":4.8,"h":15},{"e":600,"s":"raw-PQC","m":9.6,"l":5,"h":15},{"e":625,"s":"raw-PQC","m":9.9,"l":5,"h":15.5},{"e":650,"s":"raw-PQC","m":9.5,"l":5.2,"h":15},{"e":675,"s":"raw-PQC","m":9.8,"l":5,"h":15.5},{"e":700,"s":"raw-PQC","m":9.9,"l":5.5,"h":15.5},{"e":725,"s":"raw-PQC","m":10.1,"l":5.2,"h":15.5},{"e":750,"s":"raw-PQC","m":10.4,"l":5.5,"h":16},{"e":775,"s":"raw-PQC","m":10,"l":5.3,"h":15.5},{"e":800,"s":"raw-PQC","m":9.6,"l":5.5,"h":16},{"e":825,"s":"raw-PQC","m":10.3,"l":5.5,"h":15.5},{"e":850,"s":"raw-PQC","m":10.3,"l":5.8,"h":16},{"e":875,"s":"raw-PQC","m":10.2,"l":5.5,"h":16},{"e":900,"s":"raw-PQC","m":10.6,"l":6,"h":16},{"e":925,"s":"raw-PQC","m":10.7,"l":5.8,"h":16},{"e":950,"s":"raw-PQC","m":10.8,"l":6,"h":16.5},{"e":975,"s":"raw-PQC","m":11,"l":6.2,"h":16},{"e":1000,"s":"raw-PQC","m":11,"l":6,"h":16},
{"e":0,"s":"DNN","m":-0.4,"l":-2,"h":0.5},{"e":25,"s":"DNN","m":0,"l":-2,"h":1},{"e":50,"s":"DNN","m":0.2,"l":-2,"h":1.5},{"e":75,"s":"DNN","m":0.4,"l":-1.8,"h":2},{"e":100,"s":"DNN","m":0.7,"l":-1.5,"h":2.5},{"e":125,"s":"DNN","m":0.6,"l":-1.5,"h":3.2},{"e":150,"s":"DNN","m":1,"l":-1.2,"h":4},{"e":175,"s":"DNN","m":1,"l":-1.3,"h":4.5},{"e":200,"s":"DNN","m":1.7,"l":-1.2,"h":5},{"e":225,"s":"DNN","m":2.3,"l":-0.5,"h":5.5},{"e":250,"s":"DNN","m":3,"l":0,"h":6},{"e":275,"s":"DNN","m":3.3,"l":0.5,"h":6.2},{"e":300,"s":"DNN","m":3.7,"l":1,"h":6.5},{"e":325,"s":"DNN","m":4,"l":1.5,"h":6.8},{"e":350,"s":"DNN","m":4.1,"l":2,"h":6.8},{"e":375,"s":"DNN","m":4.5,"l":2.2,"h":6.6},{"e":400,"s":"DNN","m":4.6,"l":2.5,"h":6.5},{"e":425,"s":"DNN","m":4.8,"l":3,"h":6.4},{"e":450,"s":"DNN","m":4.95,"l":3.5,"h":6.5},{"e":475,"s":"DNN","m":4.9,"l":4,"h":6},{"e":500,"s":"DNN","m":5,"l":5,"h":6},{"e":525,"s":"DNN","m":5,"l":5,"h":5.3},{"e":550,"s":"DNN","m":5,"l":5,"h":6},{"e":600,"s":"DNN","m":5,"l":5,"h":6},{"e":650,"s":"DNN","m":5,"l":5,"h":6},{"e":700,"s":"DNN","m":5,"l":5,"h":5},{"e":750,"s":"DNN","m":5,"l":5,"h":6},{"e":775,"s":"DNN","m":5,"l":5,"h":5},{"e":1000,"s":"DNN","m":5,"l":5,"h":5}]
},
"resolve":{"scale":{"stroke":"independent","fill":"independent"}},
"hconcat":[
{"hconcat":[
{"vconcat":[
{"vconcat":[
{"width":278.4,"height":1,"view":{"stroke":null},"data":{"values":[]},"mark":"point","encoding":{}},
{"width":278.4,"height":207.7,"title":{"text":"(a) PQC labeling function","offset":-9.2,"fontSize":20.2},"layer":[
{"data":{"name":"mapA"},"mark":{"type":"rect","height":5.8,"clip":true},"encoding":{"x":{"field":"x","type":"quantitative","title":null,"scale":{"domain":[0,835],"nice":false},"axis":{"values":[0,417.5,835],"labelFontSize":14.5,"labelExpr":"datum.value==0?'0':datum.value<500?'π':'2π'"}},"x2":{"field":"x2"},"y":{"field":"y","type":"quantitative","title":null,"scale":{"domain":[0,622],"nice":false},"axis":{"values":[0,311,622],"labelFontSize":14.5,"labelExpr":"datum.value==0?'0':datum.value<400?'π':'2π'"}},"fill":{"field":"c","type":"nominal","legend":null,"scale":{"domain":["b","r"],"range":["#0000ff","#ff0000"]}}}},
{"data":{"name":"pathA"},"mark":{"type":"line","color":"black","strokeWidth":2.8},"encoding":{"x":{"field":"x","type":"quantitative"},"y":{"field":"y","type":"quantitative"},"order":{"field":"o"}}},
{"data":{"name":"pathA"},"mark":{"type":"point","filled":true,"fill":"white","stroke":"black","strokeWidth":1,"size":12,"opacity":1},"encoding":{"x":{"field":"x","type":"quantitative"},"y":{"field":"y","type":"quantitative"}}},
{"data":{"name":"triA"},"mark":{"type":"point","shape":"triangle-up","filled":true,"fill":"#0a7f0a","stroke":"black","strokeWidth":2.2,"size":125,"opacity":1},"encoding":{"x":{"field":"x","type":"quantitative"},"y":{"field":"y","type":"quantitative"},"angle":{"field":"a","type":"quantitative","scale":{"domain":[0,360],"range":[0,360]}}}},
{"data":{"values":[{"x":391,"y":0,"t":"(a)"}]},"mark":{"type":"text","font":"Liberation Serif","fontSize":23,"dy":48.6,"color":"#222"},"encoding":{"x":{"field":"x","type":"quantitative"},"y":{"field":"y","type":"quantitative"},"text":{"field":"t"}}}
]}
],"spacing":2.7,"bounds":"flush","resolve":{"scale":{"stroke":"independent","fill":"independent"}}},
{"width":278.4,"height":207.7,"title":{"text":"(a) PQC labeling function","offset":-8.8,"fontSize":20.2},"layer":[
{"data":{"name":"mapD"},"mark":{"type":"rect","height":5.8,"clip":true},"encoding":{"x":{"field":"x","type":"quantitative","title":null,"scale":{"domain":[0,835],"nice":false},"axis":{"values":[0,417.5,835],"labelFontSize":14.5,"labelExpr":"datum.value==0?'0':datum.value<500?'π':'2π'"}},"x2":{"field":"x2"},"y":{"field":"y","type":"quantitative","title":null,"scale":{"domain":[0,622],"nice":false},"axis":{"values":[0,311,622],"labelFontSize":14.5,"labelExpr":"datum.value==0?'0':datum.value<400?'π':'2π'"}},"fill":{"field":"c","type":"nominal","legend":null,"scale":{"domain":["b","r"],"range":["#0000ff","#ff0000"]}}}},
{"data":{"name":"pathD"},"mark":{"type":"line","color":"black","strokeWidth":2.8},"encoding":{"x":{"field":"x","type":"quantitative"},"y":{"field":"y","type":"quantitative"},"order":{"field":"o"}}},
{"data":{"name":"pathD"},"mark":{"type":"point","filled":true,"fill":"white","stroke":"black","strokeWidth":1,"size":12,"opacity":1},"encoding":{"x":{"field":"x","type":"quantitative"},"y":{"field":"y","type":"quantitative"}}},
{"data":{"name":"triD"},"mark":{"type":"point","shape":"triangle-up","filled":true,"fill":"#0a7f0a","stroke":"black","strokeWidth":2.2,"size":125,"opacity":1},"encoding":{"x":{"field":"x","type":"quantitative"},"y":{"field":"y","type":"quantitative"},"angle":{"field":"a","type":"quantitative","scale":{"domain":[0,360],"range":[0,360]}}}},
{"data":{"values":[{"x":391,"y":0,"t":"(d)"}]},"mark":{"type":"text","font":"Liberation Serif","fontSize":23,"dy":48.6,"color":"#222"},"encoding":{"x":{"field":"x","type":"quantitative"},"y":{"field":"y","type":"quantitative"},"text":{"field":"t"}}}
]}
],"spacing":38.5,"bounds":"full","resolve":{"scale":{"stroke":"independent","fill":"independent"}}},
{"vconcat":[
{"width":284.7,"height":200,"title":{"text":"(b) SL-PQC","offset":-6.9},"data":{"name":"curvesB"},"layer":[
{"mark":{"type":"area","opacity":0.15,"clip":true},"encoding":{"x":{"field":"e","type":"quantitative","title":"Episode","scale":{"domain":[0,1000],"nice":false},"axis":{"values":[0,200,400,600,800,1000],"format":"d"}},"y":{"field":"l","type":"quantitative","title":"Average collected rewards","scale":{"domain":[-2,20],"nice":false},"axis":{"values":[0,2.5,5,7.5,10,12.5,15,17.5,20],"format":".1f","tickCount":9}},"y2":{"field":"h"},"fill":{"field":"s","type":"nominal","legend":null,"scale":{"domain":["DNN","raw-PQC","softmax-PQC"],"range":["#d62728","#1f77b4","#2ca02c"]}}}},
{"mark":{"type":"line","strokeWidth":1.5,"clip":true},"encoding":{"x":{"field":"e","type":"quantitative"},"y":{"field":"m","type":"quantitative"},"stroke":{"field":"s","type":"nominal","scale":{"domain":["softmax-PQC","raw-PQC","DNN"],"range":["#2ca02c","#1f77b4","#d62728"]},"legend":{"title":null,"orient":"none","legendX":128.7,"legendY":138.7}}}},
{"data":{"values":[{"x":438,"y":-2,"t":"(b)"}]},"mark":{"type":"text","font":"Liberation Serif","fontSize":23,"dy":61.7,"color":"#222"},"encoding":{"x":{"field":"x","type":"quantitative"},"y":{"field":"y","type":"quantitative"},"text":{"field":"t"}}}
]},
{"width":284.7,"height":199.4,"title":{"text":"(b) SL-PQC","offset":-5.9},"data":{"name":"curvesE"},"layer":[
{"mark":{"type":"area","opacity":0.15,"clip":true},"encoding":{"x":{"field":"e","type":"quantitative","title":"Episode","scale":{"domain":[0,1000],"nice":false},"axis":{"values":[0,200,400,600,800,1000],"format":"d"}},"y":{"field":"l","type":"quantitative","title":"Average collected rewards","scale":{"domain":[-2,20],"nice":false},"axis":{"values":[0,2.5,5,7.5,10,12.5,15,17.5,20],"format":".1f","tickCount":9}},"y2":{"field":"h"},"fill":{"field":"s","type":"nominal","legend":null,"scale":{"domain":["DNN","raw-PQC","softmax-PQC"],"range":["#d62728","#1f77b4","#2ca02c"]}}}},
{"mark":{"type":"line","strokeWidth":1.5,"clip":true},"encoding":{"x":{"field":"e","type":"quantitative"},"y":{"field":"m","type":"quantitative"},"stroke":{"field":"s","type":"nominal","scale":{"domain":["softmax-PQC","raw-PQC","DNN"],"range":["#2ca02c","#1f77b4","#d62728"]},"legend":{"title":null,"orient":"none","legendX":128.7,"legendY":136.7}}}},
{"data":{"values":[{"x":438,"y":-2,"t":"(e)"}]},"mark":{"type":"text","font":"Liberation Serif","fontSize":23,"dy":61.7,"color":"#222"},"encoding":{"x":{"field":"x","type":"quantitative"},"y":{"field":"y","type":"quantitative"},"text":{"field":"t"}}}
]}
],"spacing":129,"bounds":"flush","resolve":{"scale":{"stroke":"independent","fill":"independent"}}}
],"spacing":8.3,"bounds":"full","resolve":{"scale":{"stroke":"independent","fill":"independent"}}},
{"vconcat":[
{"width":302.3,"height":200,"title":{"text":"(c) Cliffwalk-PQC","offset":-6.9},"data":{"name":"curvesC"},"layer":[
{"mark":{"type":"area","opacity":0.15,"clip":true},"encoding":{"x":{"field":"e","type":"quantitative","title":"Episode","scale":{"domain":[0,1000],"nice":false},"axis":{"values":[0,200,400,600,800,1000],"format":"d"}},"y":{"field":"l","type":"quantitative","title":null,"scale":{"domain":[-2,20],"nice":false},"axis":{"values":[0,2.5,5,7.5,10,12.5,15,17.5,20],"format":".1f","tickCount":9}},"y2":{"field":"h"},"fill":{"field":"s","type":"nominal","legend":null,"scale":{"domain":["DNN","raw-PQC","softmax-PQC"],"range":["#d62728","#1f77b4","#2ca02c"]}}}},
{"mark":{"type":"line","strokeWidth":1.5,"clip":true},"encoding":{"x":{"field":"e","type":"quantitative"},"y":{"field":"m","type":"quantitative"},"stroke":{"field":"s","type":"nominal","scale":{"domain":["softmax-PQC","raw-PQC","DNN"],"range":["#2ca02c","#1f77b4","#d62728"]},"legend":{"title":null,"orient":"none","legendX":146.3,"legendY":138.7}}}},
{"data":{"values":[{"x":471,"y":-2,"t":"(c)"}]},"mark":{"type":"text","font":"Liberation Serif","fontSize":23,"dy":61.7,"color":"#222"},"encoding":{"x":{"field":"x","type":"quantitative"},"y":{"field":"y","type":"quantitative"},"text":{"field":"t"}}}
]},
{"width":302.3,"height":199.4,"title":{"text":"(c) Cliffwalk-PQC","offset":-5.9},"data":{"name":"curvesF"},"layer":[
{"mark":{"type":"area","opacity":0.15,"clip":true},"encoding":{"x":{"field":"e","type":"quantitative","title":"Episode","scale":{"domain":[0,1000],"nice":false},"axis":{"values":[0,200,400,600,800,1000],"format":"d"}},"y":{"field":"l","type":"quantitative","title":null,"scale":{"domain":[-2,20],"nice":false},"axis":{"values":[0,2.5,5,7.5,10,12.5,15,17.5,20],"format":".1f","tickCount":9}},"y2":{"field":"h"},"fill":{"field":"s","type":"nominal","legend":null,"scale":{"domain":["DNN","raw-PQC","softmax-PQC"],"range":["#d62728","#1f77b4","#2ca02c"]}}}},
{"mark":{"type":"line","strokeWidth":1.5,"clip":true},"encoding":{"x":{"field":"e","type":"quantitative"},"y":{"field":"m","type":"quantitative"},"stroke":{"field":"s","type":"nominal","scale":{"domain":["softmax-PQC","raw-PQC","DNN"],"range":["#2ca02c","#1f77b4","#d62728"]},"legend":{"title":null,"orient":"none","legendX":146.3,"legendY":136.7}}}},
{"data":{"values":[{"x":471,"y":-2,"t":"(f)"}]},"mark":{"type":"text","font":"Liberation Serif","fontSize":23,"dy":61.7,"color":"#222"},"encoding":{"x":{"field":"x","type":"quantitative"},"y":{"field":"y","type":"quantitative"},"text":{"field":"t"}}}
]}
],"spacing":129,"bounds":"flush","resolve":{"scale":{"stroke":"independent","fill":"independent"}}}
],"spacing":4.7,"bounds":"full"}
